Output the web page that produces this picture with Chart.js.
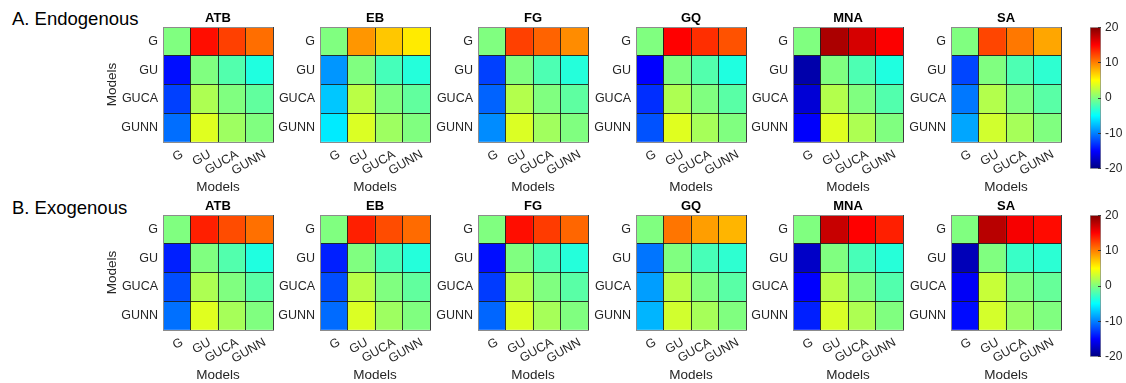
<!DOCTYPE html>
<html>
<head>
<meta charset="utf-8">
<script src="https://cdn.jsdelivr.net/npm/chart.js@4.4.0/dist/chart.umd.min.js"></script>
<style>
  html, body { margin: 0; padding: 0; background: #fff; }
  body { width: 1126px; height: 383px; position: relative; overflow: hidden;
         font-family: "Liberation Sans", Arial, sans-serif; }
  canvas { position: absolute; }
  .rowlabel { position: absolute; font-size: 18.5px; line-height: 18px; color: #000; white-space: nowrap; }
</style>
</head>
<body>
<div class="rowlabel" style="left:12px;top:10px">A. Endogenous</div>
<div class="rowlabel" style="left:12px;top:199px">B. Exogenous</div>
<script>
// ---- data -------------------------------------------------------------
const models = ['G', 'GU', 'GUCA', 'GUNN'];
const tasks = ['ATB', 'EB', 'FG', 'GQ', 'MNA', 'SA'];
const colorTicks = [-20, -10, 0, 10, 20];

// Pairwise differences, row model minus column model (Endogenous)
const endoATB = [
  [0, 14.5, 12.5, 10.7],
  [-14.5, 0, -1.8, -3.8],
  [-12.5, 1.8, 0, -1.2],
  [-10.7, 3.8, 1.2, 0]
];
const endoEB = [
  [0, 9.1, 7.2, 5.8],
  [-9.1, 0, -2.3, -3.6],
  [-7.2, 2.3, 0, -1.2],
  [-5.8, 3.6, 1.2, 0]
];
const endoFG = [
  [0, 12.5, 11.1, 9.5],
  [-12.5, 0, -2.0, -3.6],
  [-11.1, 2.0, 0, -1.3],
  [-9.5, 3.6, 1.3, 0]
];
const endoGQ = [
  [0, 15.0, 13.2, 11.8],
  [-15.0, 0, -1.8, -3.8],
  [-13.2, 1.8, 0, -1.5],
  [-11.8, 3.8, 1.5, 0]
];
const endoMNA = [
  [0, 18.3, 16.6, 15.1],
  [-18.3, 0, -2.0, -3.8],
  [-16.6, 2.0, 0, -1.8],
  [-15.1, 3.8, 1.8, 0]
];
const endoSA = [
  [0, 12.3, 10.3, 8.5],
  [-12.3, 0, -2.0, -3.2],
  [-10.3, 2.0, 0, -1.5],
  [-8.5, 3.2, 1.5, 0]
];

// Pairwise differences, row model minus column model (Exogenous)
const exoATB = [
  [0, 13.8, 12.0, 10.6],
  [-13.8, 0, -1.8, -3.8],
  [-12.0, 1.8, 0, -1.5],
  [-10.6, 3.8, 1.5, 0]
];
const exoEB = [
  [0, 13.8, 12.0, 10.8],
  [-13.8, 0, -2.2, -3.6],
  [-12.0, 2.2, 0, -1.2],
  [-10.8, 3.6, 1.2, 0]
];
const exoFG = [
  [0, 14.5, 12.7, 11.0],
  [-14.5, 0, -2.0, -3.6],
  [-12.7, 2.0, 0, -1.5],
  [-11.0, 3.6, 1.5, 0]
];
const exoGQ = [
  [0, 10.4, 8.8, 7.9],
  [-10.4, 0, -2.2, -3.2],
  [-8.8, 2.2, 0, -1.5],
  [-7.9, 3.2, 1.5, 0]
];
const exoMNA = [
  [0, 17.2, 15.0, 13.8],
  [-17.2, 0, -2.2, -3.5],
  [-15.0, 2.2, 0, -1.8],
  [-13.8, 3.5, 1.8, 0]
];
const exoSA = [
  [0, 17.8, 15.3, 14.6],
  [-17.8, 0, -2.8, -3.3],
  [-15.3, 2.8, 0, -1.0],
  [-14.6, 3.3, 1.0, 0]
];

const endogenous = [endoATB, endoEB, endoFG, endoGQ, endoMNA, endoSA];
const exogenous = [exoATB, exoEB, exoFG, exoGQ, exoMNA, exoSA];

// ---- look & layout ----------------------------------------------------
const FONT = '"Liberation Sans", Arial, sans-serif';
const TEXT = '#262626';
const EDGE = '#8c8c8c';
const INNER = 'rgba(25,25,25,0.85)';
const CMIN = colorTicks[0], CMAX = colorTicks[colorTicks.length - 1];

const PANEL_LEFT = [163, 320, 478, 636, 793, 951];
const ROW_TOP = [27, 215];
const PLOT_W = 110, PLOT_H = 115;
const Y_AXIS_W = 60, X_AXIS_H = 58, TITLE_H = 18, PAD_R = 8;
const CB_LEFT = 1090, CB_W = 11, CB_TOP = [21, 209], CB_H = 154, CB_AXIS_W = 30, CB_PAD = 8;

// MATLAB-style "jet" colormap
const JET_STOPS = [[0, '#000080'], [0.125, '#0000ff'], [0.375, '#00ffff'],
                   [0.625, '#ffff00'], [0.875, '#ff0000'], [1, '#800000']];
function jetColor(v) {
  const t = Math.min(1, Math.max(0, (v - CMIN) / (CMAX - CMIN)));
  const ch = x => Math.round(255 * Math.min(1, Math.max(0, 1.5 - Math.abs(4 * t - x))));
  return `rgb(${ch(3)},${ch(2)},${ch(1)})`;
}

function makeCanvas(left, top, w, h) {
  const c = document.createElement('canvas');
  c.width = w; c.height = h;
  c.style.left = left + 'px'; c.style.top = top + 'px';
  c.style.width = w + 'px'; c.style.height = h + 'px';
  document.body.appendChild(c);
  return c;
}

// y tick positions: cell boundaries (grid lines) and cell centres (labels)
const yTickValues = [];
for (let i = 0; i <= models.length; i++) {
  yTickValues.push(i);
  if (i < models.length) yTickValues.push(i + 0.5);
}

function heatmap(left, top, title, matrix, showYTitle) {
  const canvas = makeCanvas(left - Y_AXIS_W, top - TITLE_H,
                            Y_AXIS_W + PLOT_W + PAD_R, TITLE_H + PLOT_H + X_AXIS_H);
  const n = models.length;
  // one stacked dataset per matrix row, bottom row first
  const datasets = [];
  for (let k = 0; k < n; k++) {
    const row = matrix[n - 1 - k];
    datasets.push({
      label: models[n - 1 - k],
      data: models.map(() => 1),
      backgroundColor: row.map(jetColor),
      borderWidth: 0,
      barPercentage: 1,
      categoryPercentage: 1
    });
  }
  const tickFont = { family: FONT, size: 12.5 };
  const axisTitleFont = { family: FONT, size: 13.5 };
  return new Chart(canvas, {
    type: 'bar',
    data: { labels: models, datasets },
    options: {
      responsive: false, animation: false, devicePixelRatio: 1, events: [],
      layout: { padding: { left: 0, right: PAD_R, top: 0, bottom: 0 } },
      plugins: {
        legend: { display: false },
        tooltip: { enabled: false },
        title: {
          display: true, text: title, fullSize: false, color: '#000', padding: 0,
          font: { family: FONT, size: 13, weight: 'bold', lineHeight: TITLE_H + 'px' }
        }
      },
      scales: {
        x: {
          type: 'category', stacked: true, offset: true,
          grid: {
            offset: true, drawTicks: false, z: 1, lineWidth: 1,
            color: ctx => (ctx.index === 0 || ctx.index === n) ? EDGE : INNER
          },
          border: { display: true, color: EDGE, z: 1 },
          ticks: {
            minRotation: 30, maxRotation: 30, autoSkip: false,
            padding: 5, labelOffset: 5.5, color: TEXT, font: tickFont
          },
          title: { display: true, text: 'Models', color: TEXT, font: axisTitleFont,
                   padding: { top: 0, bottom: 5 } },
          afterFit: s => { s.height = X_AXIS_H; }
        },
        y: {
          type: 'linear', stacked: true, min: 0, max: n,
          afterBuildTicks: s => { s.ticks = yTickValues.map(v => ({ value: v })); },
          grid: {
            drawTicks: false, z: 1, lineWidth: 1,
            color: ctx => {
              const v = ctx.tick ? ctx.tick.value : -1;
              if (v === 0 || v === n) return EDGE;
              return Number.isInteger(v) ? INNER : 'rgba(0,0,0,0)';
            }
          },
          border: { display: true, color: EDGE, z: 1 },
          ticks: {
            autoSkip: false, padding: 5, color: TEXT, font: tickFont,
            callback: v => {
              const k = v - 0.5;
              return Number.isInteger(k) ? models[n - 1 - k] : '';
            }
          },
          title: { display: showYTitle, text: 'Models', color: TEXT, font: axisTitleFont,
                   padding: { top: 1, bottom: 0 } },
          afterFit: s => { s.width = Y_AXIS_W; }
        }
      }
    }
  });
}

function colorbar(top) {
  const canvas = makeCanvas(CB_LEFT, top - CB_PAD, CB_W + CB_AXIS_W, CB_H + 2 * CB_PAD);
  return new Chart(canvas, {
    type: 'bar',
    data: {
      labels: [''],
      datasets: [{
        data: [[CMIN, CMAX]],
        backgroundColor: ctx => {
          const chart = ctx.chart;
          const y = chart.scales && chart.scales.y;
          if (!chart.chartArea || !y) return '#80ff80';
          const g = chart.ctx.createLinearGradient(0, y.getPixelForValue(CMIN), 0, y.getPixelForValue(CMAX));
          JET_STOPS.forEach(([t, c]) => g.addColorStop(t, c));
          return g;
        },
        borderColor: '#8c8c8c', borderWidth: 1, borderSkipped: false,
        barPercentage: 1, categoryPercentage: 1
      }]
    },
    options: {
      responsive: false, animation: false, devicePixelRatio: 1, events: [],
      layout: { padding: { left: 0, right: 0, top: CB_PAD, bottom: CB_PAD } },
      plugins: { legend: { display: false }, tooltip: { enabled: false } },
      scales: {
        x: { display: false, offset: true },
        y: {
          position: 'right', min: CMIN, max: CMAX,
          afterBuildTicks: s => { s.ticks = colorTicks.map(v => ({ value: v })); },
          // short inward tick marks on the right edge of the bar
          grid: { display: true, drawOnChartArea: false, drawTicks: true, tickLength: -3,
                  z: 1, color: '#3a3a3a', lineWidth: 1 },
          border: { display: false },
          ticks: { padding: 7, color: TEXT, font: { family: FONT, size: 12 }, autoSkip: false },
          afterFit: s => { s.width = CB_AXIS_W; }
        }
      }
    }
  });
}

[endogenous, exogenous].forEach((group, r) => {
  group.forEach((matrix, i) => {
    heatmap(PANEL_LEFT[i], ROW_TOP[r], tasks[i], matrix, i === 0);
  });
  colorbar(CB_TOP[r]);
});
</script>
</body>
</html>
